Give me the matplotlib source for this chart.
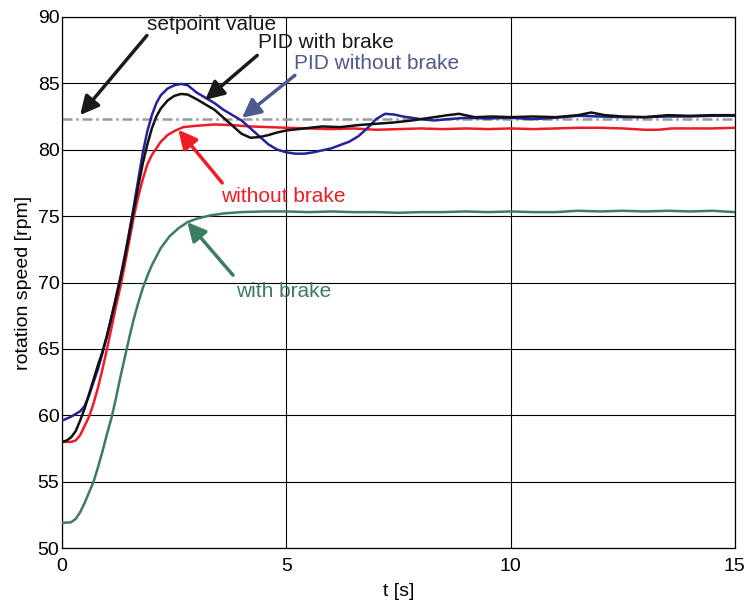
import matplotlib
matplotlib.use("Agg")
import matplotlib.pyplot as plt

plt.rcParams["font.family"] = ["Liberation Sans", "DejaVu Sans"]

# PID without brake (blue)
t_pid_nobrake = [0, 0.2, 0.4, 0.5, 0.6, 0.7, 0.8, 0.9, 1.0, 1.1, 1.2, 1.3, 1.4, 1.5, 1.6, 1.7, 1.8, 1.9,
                 2.0, 2.1, 2.2, 2.35, 2.5, 2.65, 2.8, 3.0, 3.2, 3.4, 3.6, 3.8, 4.0, 4.2, 4.4, 4.6, 4.8,
                 5.0, 5.2, 5.4, 5.6, 5.8, 6.0, 6.2, 6.4, 6.6, 6.8, 7.0, 7.2, 7.4, 7.6, 7.8, 8.0, 8.3,
                 8.6, 9.0, 9.5, 10, 10.5, 11, 11.5, 12, 12.5, 13, 13.5, 14, 14.5, 15]
v_pid_nobrake = [59.6, 59.9, 60.3, 60.7, 61.5, 62.5, 63.5, 64.7, 66.0, 67.4, 68.9, 70.4, 72.1, 73.9, 75.8,
                 77.8, 79.8, 81.4, 82.6, 83.5, 84.1, 84.6, 84.85, 84.95, 84.85, 84.3, 83.9, 83.5, 83.0,
                 82.6, 82.2, 81.6, 81.0, 80.4, 80.0, 79.8, 79.7, 79.7, 79.8, 79.95, 80.1, 80.35, 80.6,
                 81.0, 81.6, 82.3, 82.7, 82.65, 82.5, 82.4, 82.3, 82.2, 82.3, 82.4, 82.35, 82.4, 82.3,
                 82.4, 82.55, 82.5, 82.45, 82.45, 82.5, 82.5, 82.55, 82.55]

# PID with brake (black)
t_pid_brake = [0, 0.1, 0.2, 0.3, 0.4, 0.5, 0.6, 0.7, 0.8, 0.9, 1.0, 1.1, 1.2, 1.3, 1.4, 1.5, 1.6, 1.7,
               1.8, 1.9, 2.0, 2.1, 2.2, 2.35, 2.5, 2.65, 2.8, 3.0, 3.2, 3.4, 3.6, 3.8, 4.0, 4.2, 4.4,
               4.6, 4.8, 5.0, 5.4, 5.8, 6.2, 6.6, 7.0, 7.4, 7.8, 8.2, 8.6, 8.85, 9.2, 9.6, 10, 10.5,
               11, 11.5, 11.8, 12.1, 12.5, 13, 13.5, 14, 14.5, 15]
v_pid_brake = [58.0, 58.1, 58.35, 58.8, 59.6, 60.5, 61.6, 62.7, 63.8, 64.8, 66.0, 67.4, 68.8, 70.3, 71.9,
               73.7, 75.5, 77.3, 79.0, 80.4, 81.6, 82.5, 83.1, 83.7, 84.05, 84.2, 84.15, 83.8, 83.4,
               83.0, 82.4, 81.8, 81.2, 80.9, 80.95, 81.1, 81.3, 81.45, 81.6, 81.75, 81.7, 81.85, 81.95,
               82.05, 82.2, 82.4, 82.6, 82.7, 82.45, 82.5, 82.45, 82.5, 82.45, 82.6, 82.8, 82.6, 82.5,
               82.45, 82.6, 82.55, 82.6, 82.6]

# without brake (red)
t_nobrake = [0, 0.2, 0.3, 0.4, 0.5, 0.6, 0.7, 0.8, 0.9, 1.0, 1.1, 1.2, 1.3, 1.4, 1.5, 1.6, 1.7, 1.8,
             1.9, 2.0, 2.1, 2.2, 2.35, 2.5, 2.7, 3.0, 3.4, 3.8, 4.2, 4.6, 5.0, 5.5, 6.0, 6.5, 7.0, 7.5,
             8.0, 8.5, 9.0, 9.5, 10, 10.5, 11, 11.5, 12, 12.5, 13, 13.3, 13.6, 14, 14.5, 15]
v_nobrake = [58.0, 58.0, 58.1, 58.5, 59.2, 59.9, 60.9, 62.1, 63.5, 65.0, 66.6, 68.2, 69.7, 71.4, 73.2,
             75.0, 76.5, 77.8, 78.9, 79.6, 80.1, 80.6, 81.1, 81.4, 81.7, 81.8, 81.9, 81.85, 81.75,
             81.7, 81.65, 81.6, 81.55, 81.6, 81.5, 81.55, 81.6, 81.55, 81.6, 81.55, 81.6, 81.55, 81.6,
             81.65, 81.65, 81.6, 81.5, 81.5, 81.6, 81.6, 81.6, 81.65]

# with brake (green)
t_brake = [0, 0.2, 0.3, 0.4, 0.5, 0.6, 0.7, 0.8, 0.9, 1.0, 1.1, 1.2, 1.3, 1.4, 1.5, 1.6, 1.7, 1.8,
           1.9, 2.0, 2.2, 2.4, 2.6, 2.8, 3.0, 3.3, 3.6, 4.0, 4.5, 5.0, 5.5, 6.0, 6.5, 7.0, 7.5, 8.0,
           8.5, 9.0, 9.5, 10, 10.5, 11, 11.5, 12, 12.5, 13, 13.5, 14, 14.5, 15]
v_brake = [51.9, 51.95, 52.2, 52.7, 53.4, 54.2, 55.0, 56.1, 57.3, 58.6, 59.8, 61.3, 62.9, 64.4, 65.9,
           67.3, 68.5, 69.6, 70.5, 71.3, 72.6, 73.5, 74.1, 74.55, 74.8, 75.05, 75.2, 75.3, 75.35,
           75.35, 75.3, 75.35, 75.3, 75.3, 75.25, 75.3, 75.3, 75.35, 75.3, 75.35, 75.3, 75.3, 75.4,
           75.35, 75.4, 75.35, 75.4, 75.35, 75.4, 75.3]

setpoint = 82.3

fig = plt.figure(figsize=(7.49, 6.03), dpi=100)
ax = fig.add_axes([0.083, 0.091, 0.898, 0.881])

ax.axhline(setpoint, color="#9a9a9a", lw=1.8, ls=(0, (4, 1.5, 1, 1.5)), zorder=2)
ax.plot(t_brake, v_brake, color="#3b7d5c", lw=1.8, zorder=3)
ax.plot(t_nobrake, v_nobrake, color="#ee1c24", lw=1.8, zorder=3)
ax.plot(t_pid_nobrake, v_pid_nobrake, color="#23239a", lw=1.8, zorder=4)
ax.plot(t_pid_brake, v_pid_brake, color="#111111", lw=1.8, zorder=5)

ax.set_xlim(0, 15)
ax.set_ylim(50, 90)
ax.set_xticks([0, 5, 10, 15])
ax.set_yticks(range(50, 91, 5))
ax.grid(True, color="black", lw=0.8)
ax.set_axisbelow(True)
ax.tick_params(axis="y", length=0, labelsize=14, pad=2)
ax.tick_params(axis="x", length=0, labelsize=14, pad=7)
for s in ax.spines.values():
    s.set_linewidth(0.9)
ax.set_xlabel("t [s]", fontsize=14, labelpad=6)
ax.set_ylabel("rotation speed [rpm]", fontsize=14, labelpad=4)

def arrow(head, tail, color):
    ax.annotate("", xy=head, xytext=tail,
                arrowprops=dict(arrowstyle="-|>", color=color, lw=2.5,
                                mutation_scale=28, shrinkA=0, shrinkB=0), zorder=6)

arrow((0.40, 82.6), (1.89, 88.6), "#1a1a1a")
ax.text(3.34, 89.45, "setpoint value", fontsize=15, ha="center", va="center", color="#1a1a1a")
arrow((3.19, 83.75), (4.35, 87.1), "#1a1a1a")
ax.text(5.88, 88.1, "PID with brake", fontsize=15, ha="center", va="center", color="#1a1a1a")
arrow((4.01, 82.4), (5.19, 85.6), "#4f5a8c")
ax.text(7.02, 86.5, "PID without brake", fontsize=15, ha="center", va="center", color="#4f5a8c")
arrow((2.59, 81.5), (3.57, 77.5), "#ee1c24")
ax.text(4.93, 76.45, "without brake", fontsize=15, ha="center", va="center", color="#ee1c24")
arrow((2.79, 74.55), (3.81, 70.55), "#3b7d5c")
ax.text(4.93, 69.35, "with brake", fontsize=15, ha="center", va="center", color="#3b7d5c")

fig.savefig("out.png", dpi=100)
